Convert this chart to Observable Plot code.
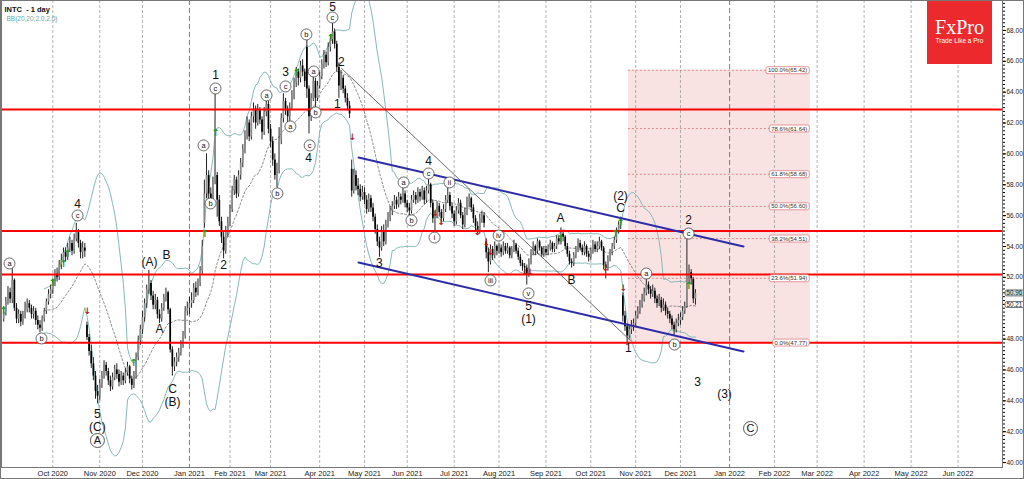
<!DOCTYPE html>
<html><head><meta charset="utf-8">
<script src="https://cdn.jsdelivr.net/npm/d3@7"></script>
<script src="https://cdn.jsdelivr.net/npm/@observablehq/plot@0.6"></script>
<style>
html,body{margin:0;padding:0;background:#fff;}
#wrap{position:relative;width:1024px;height:479px;overflow:hidden;}
#logo{position:absolute;left:927px;top:0;width:65px;height:64px;background:#ec2a2d;color:#fff;text-align:center;}
#logo .b{position:absolute;left:0;right:0;top:17px;font-family:'Liberation Serif','DejaVu Serif',serif;font-size:20px;line-height:20px;}
#logo .s{position:absolute;left:0;right:0;top:37px;font-family:'Liberation Sans',Arial,sans-serif;font-size:6.5px;line-height:8px;}
#border{position:absolute;left:0;top:0;width:1024px;height:479px;box-sizing:border-box;border:1px solid #777;pointer-events:none;}
</style></head>
<body><div id="wrap"></div>
<script>
// ---- daily OHLC (bar index 0 = early Sep 2020) ----
const open = [
49.3,49.7,50.4,51.0,50.6,51.8,50.0,49.3,49.6,49.1,
49.5,49.9,50.3,50.0,49.6,49.8,49.2,48.9,48.7,49.3,
49.8,50.4,50.9,51.2,51.6,52.2,52.0,52.8,53.1,53.6,
53.3,53.9,54.2,53.7,54.5,54.9,54.2,53.6,53.9,48.9,
48.1,47.2,46.4,45.6,44.6,44.3,45.1,45.6,46.3,45.9,
45.3,44.9,45.5,46.0,45.7,45.2,45.6,45.3,45.8,46.2,
45.4,45.0,45.6,46.8,47.9,48.6,49.4,50.3,51.2,51.6,
50.8,50.2,50.5,49.6,49.3,50.0,50.7,51.0,49.9,47.3,
46.2,46.5,46.8,47.1,47.6,48.2,49.8,50.0,50.3,50.5,
51.3,51.0,51.6,52.4,55.5,57.4,58.6,57.4,56.9,58.2,
58.6,57.0,55.6,54.6,53.7,55.0,55.5,56.4,57.6,58.3,
57.4,58.6,59.4,60.3,61.2,62.0,61.1,62.4,62.9,62.0,
62.8,62.2,61.4,62.7,63.2,61.6,60.8,59.6,58.6,58.9,
60.9,62.3,63.4,62.9,62.4,63.0,63.8,64.6,65.3,64.9,
65.7,65.3,66.9,64.2,62.4,63.6,64.7,63.6,64.4,65.0,
65.8,66.4,65.9,66.9,67.4,67.9,67.1,65.6,64.4,64.9,
64.2,63.6,63.1,59.0,57.6,58.6,57.9,57.7,57.2,57.5,
57.0,56.4,57.1,56.5,55.9,55.1,54.3,53.9,55.0,54.3,
55.4,55.9,56.3,56.6,57.0,56.7,57.2,57.0,57.4,56.8,
56.5,56.3,57.0,57.3,57.0,57.5,57.2,57.6,57.0,57.6,
58.0,56.8,55.8,56.0,56.6,56.2,55.8,56.4,57.0,57.3,
56.6,56.1,55.6,56.3,56.8,56.0,55.4,56.2,56.9,57.1,
56.5,55.8,55.3,55.0,55.8,56.0,54.3,53.6,53.0,53.8,
53.4,54.0,53.7,53.9,53.6,54.0,53.7,53.9,53.4,53.8,
54.1,53.7,53.3,52.9,52.7,52.6,52.2,53.0,53.6,54.0,
53.7,54.3,53.9,53.5,53.8,53.6,53.9,54.2,53.8,54.0,
54.5,54.3,54.8,54.6,54.0,53.5,53.0,52.9,53.4,53.8,
54.2,53.9,53.6,54.0,53.5,53.3,53.7,54.1,53.8,54.0,
54.3,53.9,52.8,52.6,53.2,53.6,54.0,54.4,55.0,55.4,
50.8,49.5,48.8,48.2,48.6,48.9,49.0,49.5,49.8,50.2,
50.6,51.0,51.5,51.2,50.9,51.1,50.6,50.3,50.5,50.0,
50.2,49.8,49.6,49.3,48.9,48.6,49.0,49.2,49.4,49.8,
50.1,52.0,52.3,51.9,50.6];
const high = [
50.1,50.7,51.4,51.3,52.6,51.9,50.3,49.9,49.8,49.8,
50.4,50.6,50.5,50.2,50.1,50.0,49.5,49.2,49.5,50.0,
50.6,51.2,51.5,51.9,52.5,52.6,53.1,53.5,53.9,53.9,
54.2,54.6,54.4,54.8,55.5,55.1,54.4,54.3,54.2,49.1,
48.3,47.6,46.8,45.9,45.0,45.4,45.9,46.6,46.5,46.1,
45.6,45.8,46.3,46.4,46.0,45.9,45.8,46.1,46.5,46.3,
45.6,45.9,47.1,48.2,48.9,49.8,50.6,51.5,52.45,51.8,
51.1,50.9,50.7,49.9,50.3,50.9,51.3,51.1,50.0,47.5,
46.8,47.1,47.4,47.9,48.5,50.1,50.4,50.7,51.0,51.6,
51.7,51.9,52.7,54.4,58.3,60.0,58.9,57.8,58.5,63.9,
58.8,57.3,55.9,54.9,55.3,55.9,56.7,57.9,58.6,58.5,
58.9,59.7,60.6,61.5,62.4,62.2,62.7,63.3,63.1,63.2,
63.0,62.4,63.0,63.8,63.4,61.9,61.1,60.0,59.4,61.7,
62.6,63.9,63.6,63.1,63.3,64.1,64.9,65.6,65.5,66.0,
66.1,65.5,67.35,64.4,63.9,65.1,64.9,64.7,65.3,66.1,
66.7,66.6,67.2,67.7,68.45,68.1,67.3,65.9,65.4,65.1,
64.4,63.9,63.4,59.6,59.0,58.9,58.4,58.0,57.9,57.8,
57.3,57.4,57.3,56.8,56.1,55.4,54.6,55.3,55.4,55.7,
56.2,56.6,56.9,57.3,57.2,57.5,57.4,57.8,57.6,57.0,
56.8,57.3,57.6,57.5,57.8,57.7,57.9,57.8,57.9,58.4,
58.1,57.0,56.3,56.9,56.8,56.4,56.7,57.3,57.8,57.5,
56.8,56.3,56.6,57.1,57.0,56.2,56.5,57.2,57.4,57.2,
56.7,56.0,55.6,56.1,56.3,56.2,54.5,53.9,54.1,54.0,
54.3,54.1,54.2,54.1,54.3,54.2,54.2,54.0,54.0,54.4,
54.2,53.9,53.5,53.1,52.9,52.8,53.2,53.8,54.3,54.1,
54.5,54.4,54.0,54.0,54.0,54.1,54.4,54.3,54.2,54.7,
54.7,55.2,55.0,54.7,54.2,53.7,53.2,53.6,54.0,54.5,
54.4,54.1,54.3,54.1,53.7,53.9,54.4,54.3,54.3,54.6,
54.4,54.0,53.0,53.4,53.8,54.2,54.6,55.2,55.6,55.9,
51.0,49.8,49.0,48.9,49.2,49.3,49.8,50.1,50.5,50.9,
51.3,51.9,51.7,51.4,51.5,51.3,50.8,50.9,50.7,50.6,
50.4,50.0,49.8,49.5,49.1,49.3,49.6,49.7,50.1,50.4,
54.6,52.8,52.5,52.0,51.2];
const low = [
49.1,49.5,50.2,50.3,50.3,49.8,49.0,49.0,48.8,48.9,
49.3,49.7,49.7,49.3,49.3,48.9,48.6,48.4,48.5,49.1,
49.6,50.2,50.6,50.9,51.4,51.7,51.8,52.5,52.9,53.0,
53.1,53.6,53.4,53.5,54.3,53.9,53.2,53.2,53.3,47.9,
46.9,46.1,45.3,44.1,43.8,44.0,44.8,45.4,45.6,45.0,
44.6,44.7,45.3,45.4,44.9,45.0,45.0,45.1,45.6,45.1,
44.7,44.8,45.4,46.6,47.6,48.3,49.1,50.0,50.9,50.5,
49.9,49.9,49.3,49.0,49.1,49.8,50.4,49.6,47.1,45.6,
45.9,46.2,46.5,46.9,47.4,48.0,49.5,49.6,50.0,50.3,
50.7,50.8,51.4,52.2,55.2,57.1,57.0,56.4,56.7,58.0,
55.9,55.3,54.2,53.2,53.5,54.6,55.3,56.2,57.3,57.1,
57.2,58.3,59.1,60.0,60.9,60.8,60.9,62.0,61.6,61.8,
61.9,60.9,61.2,62.4,61.3,60.4,59.2,58.3,57.8,58.7,
60.6,62.0,62.5,62.0,62.1,62.8,63.5,64.3,64.4,64.6,
65.0,64.3,63.6,61.3,62.1,63.4,63.0,63.4,64.2,64.8,
65.5,65.6,65.7,66.6,67.1,66.8,65.3,63.6,64.1,63.9,
63.3,62.8,62.3,57.2,57.4,57.6,57.3,56.9,57.0,56.7,
56.1,56.2,56.2,55.6,54.8,54.0,53.3,53.7,54.0,54.1,
55.2,55.6,56.0,56.4,56.4,56.5,56.7,56.8,56.5,56.2,
56.0,56.1,56.8,56.7,56.8,56.9,57.0,56.7,56.8,57.4,
56.5,55.5,55.0,55.8,55.9,55.5,55.6,56.2,56.8,56.3,
55.8,55.3,55.4,56.1,55.8,55.1,55.2,56.0,56.5,56.2,
55.5,55.0,54.7,54.8,55.5,55.2,53.2,52.3,52.8,53.1,
53.2,53.4,53.5,53.3,53.4,53.5,53.5,53.2,53.2,53.6,
53.5,53.1,52.7,52.4,52.2,51.5,52.0,52.8,53.4,53.4,
53.5,53.7,53.3,53.3,53.4,53.4,53.7,53.6,53.6,53.8,
54.1,54.1,54.3,53.8,53.3,52.8,52.6,52.7,53.2,53.6,
53.7,53.4,53.4,53.3,53.0,53.1,53.5,53.6,53.6,53.8,
53.7,52.5,51.9,52.4,53.0,53.4,53.8,54.2,54.8,55.1,
49.1,48.5,47.77,48.0,48.3,48.5,48.8,49.3,49.6,50.0,
50.4,50.8,50.9,50.6,50.7,50.3,50.0,50.1,49.7,49.8,
49.5,49.3,49.0,48.6,48.2,48.4,48.8,48.9,49.2,49.6,
50.0,51.6,51.5,50.3,50.2];
const close = [
49.7,50.4,51.0,50.6,51.8,50.0,49.3,49.6,49.1,49.5,
49.9,50.3,50.0,49.6,49.8,49.2,48.9,48.7,49.3,49.8,
50.4,50.9,51.2,51.6,52.2,52.0,52.8,53.1,53.6,53.3,
53.9,54.2,53.7,54.5,54.9,54.2,53.6,53.9,53.7,48.1,
47.2,46.4,45.6,44.6,44.3,45.1,45.6,46.3,45.9,45.3,
44.9,45.5,46.0,45.7,45.2,45.6,45.3,45.8,46.2,45.4,
45.0,45.6,46.8,47.9,48.6,49.4,50.3,51.2,51.6,50.8,
50.2,50.5,49.6,49.3,50.0,50.7,51.0,49.9,47.3,46.2,
46.5,46.8,47.1,47.6,48.2,49.8,50.0,50.3,50.5,51.3,
51.0,51.6,52.4,54.0,57.4,58.6,57.4,56.9,58.2,62.3,
57.0,55.6,54.6,53.7,55.0,55.5,56.4,57.6,58.3,57.4,
58.6,59.4,60.3,61.2,62.0,61.1,62.4,62.9,62.0,62.8,
62.2,61.4,62.7,63.2,61.6,60.8,59.6,58.6,58.9,60.9,
62.3,63.4,62.9,62.4,63.0,63.8,64.6,65.3,64.9,65.7,
65.3,64.7,64.2,62.4,63.6,64.7,63.6,64.4,65.0,65.8,
66.4,65.9,66.9,67.4,67.9,67.1,65.6,64.4,64.9,64.2,
63.6,63.1,62.6,57.6,58.6,57.9,57.7,57.2,57.5,57.0,
56.4,57.1,56.5,55.9,55.1,54.3,53.9,55.0,54.3,55.4,
55.9,56.3,56.6,57.0,56.7,57.2,57.0,57.4,56.8,56.5,
56.3,57.0,57.3,57.0,57.5,57.2,57.6,57.0,57.6,58.0,
56.8,55.8,56.0,56.6,56.2,55.8,56.4,57.0,57.3,56.6,
56.1,55.6,56.3,56.8,56.0,55.4,56.2,56.9,57.1,56.5,
55.8,55.3,55.0,55.8,56.0,55.5,53.6,53.0,53.8,53.4,
54.0,53.7,53.9,53.6,54.0,53.7,53.9,53.4,53.8,54.1,
53.7,53.3,52.9,52.7,52.6,52.2,53.0,53.6,54.0,53.7,
54.3,53.9,53.5,53.8,53.6,53.9,54.2,53.8,54.0,54.5,
54.3,54.8,54.6,54.0,53.5,53.0,52.9,53.4,53.8,54.2,
53.9,53.6,54.0,53.5,53.3,53.7,54.1,53.8,54.0,54.3,
53.9,52.8,52.6,53.2,53.6,54.0,54.4,55.0,55.4,55.6,
49.5,48.8,48.2,48.6,48.9,49.0,49.5,49.8,50.2,50.6,
51.0,51.5,51.2,50.9,51.1,50.6,50.3,50.5,50.0,50.2,
49.8,49.6,49.3,48.9,48.6,49.0,49.2,49.4,49.8,50.1,
52.0,52.3,51.9,50.6,50.96];

// ---- axis ticks ----
const monthLabels = ["Oct 2020","Nov 2020","Dec 2020","Jan 2021","Feb 2021","Mar 2021","Apr 2021","May 2021","Jun 2021","Jul 2021","Aug 2021","Sep 2021","Oct 2021","Nov 2021","Dec 2021","Jan 2022","Feb 2022","Mar 2022","Apr 2022","May 2022","Jun 2022"];
const monthIdx = [23,45,65,87,106,125,148,169,189,211,232,254,275,296,317,340,361,381,403,425,447];
const yearIdx = [87,340];
const priceTicks = [40,42,44,46,48,52,54,56,58,60,62,64,66,68];

// ---- drawn studies ----
const levels = [62.88, 55.0, 52.18, 47.77];
const channelUpper = [[166.2,59.77],[346.5,54.0]];
const channelLower = [[166.2,52.96],[346.5,47.2]];
const trendLine = [[158.2,65.54],[293.6,47.9]];
const fibPct = ["100.0%","78.6%","61.8%","50.0%","38.2%","23.6%","0.0%"];
const fibPrice = [65.42,61.64,58.68,56.60,54.51,51.94,47.77];
const fibStart = 292.6, fibEnd = 377.8, fibLineEnd = 359.5;
const priceTags = [["50.96",50.96,"#c6e0e0"],["50.21",50.21,"#ffffff"]];

// ---- wave annotations [text, bar index, price] ----
const waveLabels = [["4",34.6,56.72],["5",43.9,43.11],["(C)",43.9,42.27],["(A)",68.3,52.96],["B",76.3,53.42],["A",73.0,48.62],["C",79.1,44.73],["(B)",79.1,43.89],["1",99.2,65.08],["2",103.0,52.77],["3",132.0,65.28],["4",142.8,59.70],["5",154.0,69.5],["2",158.2,65.93],["1",156.3,63.2],["3",176.0,52.90],["4",199.0,59.51],["5",245.8,50.11],["(1)",245.8,49.27],["A",260.8,55.82],["B",265.9,51.80],["C",288.9,56.46],["(2)",288.9,57.24],["1",292.6,47.39],["2",320.8,55.69],["3",325.0,45.19],["(3)",337.6,44.41]];
const circled = [["a",2.7,52.90],["b",17.7,48.04],["c",34.6,56.01],["a",93.6,60.55],["b",96.9,56.79],["c",99.2,64.24],["a",123.1,63.79],["b",128.2,57.44],["c",132.0,64.37],["a",134.3,61.78],["b",141.8,67.74],["c",143.3,60.55],["a",145.2,65.34],["b",146.1,62.69],["c",154.0,68.84],["a",187.3,58.15],["b",191.0,55.69],["c",199.0,58.73],["i",201.8,54.58],["ii",208.8,58.15],["iii",228.0,51.80],["iv",231.8,54.71],["v",245.8,50.96],["a",301.0,52.25],["b",314.2,47.65],["c",320.8,54.84]];
const circledBig = [["A",43.9,41.43],["C",349.8,42.21]];
const upArrows = [[-0.1,49.85],[22.9,51.67],[28.0,52.90],[29.9,53.55],[60.8,46.48],[94.1,54.84],[99.2,61.39],[137.1,65.28],[153.1,67.55],[260.8,54.52],[286.5,54.84],[288.9,55.56],[320.8,51.47]];
const downArrows = [[39.3,49.79],[163.4,61.07],[202.2,56.14],[205.0,55.56],[221.9,54.91],[226.1,54.20],[228.0,53.61],[244.2,52.32],[246.6,52.32],[281.9,52.58],[290.3,51.28]];

// ---- build ----
const bars = close.map((c, i) => ({i, o: open[i], h: high[i], l: low[i], c}));
const bb = [];
for (let i = 19; i < close.length; i++) {
  const w = close.slice(i - 19, i + 1);
  const m = d3.mean(w);
  const sd = Math.sqrt(d3.mean(w, v => (v - m) ** 2));
  bb.push({i, m, u: m + 2 * sd, d: m - 2 * sd});
}
const fibRows = fibPrice.map((p, k) => ({p, a: fibStart, b: fibLineEnd, e: fibEnd, label: `${fibPct[k]}(${p.toFixed(2)})`}));
const lblMap = new Map(monthIdx.map((d, k) => [d, monthLabels[k]]));
const X = d => d[1], Y = d => d[2], T = d => d[0];

const chart = Plot.plot({
  width: 1024, height: 479,
  marginLeft: 1, marginRight: 22, marginTop: 0, marginBottom: 12,
  x: {domain: [-1.03, 467.82], axis: null},
  y: {domain: [39.68, 69.94], axis: null},
  style: {fontFamily: "'Liberation Sans', Arial, sans-serif", background: "white"},
  marks: [
    Plot.rect([{x1: fibStart, x2: fibEnd, y1: fibPrice[6], y2: fibPrice[0]}], {x1: "x1", x2: "x2", y1: "y1", y2: "y2", fill: "#f8e2e2"}),
    Plot.ruleX(monthIdx.filter(d => !yearIdx.includes(d)), {stroke: "#a0a0a0", strokeWidth: 0.8, strokeDasharray: "3,2"}),
    Plot.ruleX(yearIdx, {stroke: "#707070", strokeWidth: 0.9, strokeDasharray: "5,3"}),
    Plot.line(bb, {x: "i", y: "u", stroke: "#86b9b9", strokeWidth: 1, clip: true}),
    Plot.line(bb, {x: "i", y: "d", stroke: "#86b9b9", strokeWidth: 1, clip: true}),
    Plot.line(bb, {x: "i", y: "m", stroke: "#707070", strokeWidth: 0.8, strokeDasharray: "2,2", clip: true}),
    Plot.ruleX(bars, {x: "i", y1: "l", y2: "h", stroke: "#222", strokeWidth: 1}),
    Plot.ruleX(bars.filter(d => d.c >= d.o), {x: "i", y1: "o", y2: "c", stroke: "#8c8c8c", strokeWidth: 1.7}),
    Plot.ruleX(bars.filter(d => d.c < d.o), {x: "i", y1: "o", y2: "c", stroke: "#000", strokeWidth: 1.7}),
    Plot.ruleY(fibRows, {y: "p", x1: "a", x2: "b", stroke: "#e07070", strokeWidth: 0.8, strokeDasharray: "2,2"}),
    Plot.ruleY(levels, {stroke: "#ff0000", strokeWidth: 2}),
    Plot.line(channelUpper, {x: d => d[0], y: d => d[1], stroke: "#2c2ca8", strokeWidth: 2}),
    Plot.line(channelLower, {x: d => d[0], y: d => d[1], stroke: "#2c2ca8", strokeWidth: 2}),
    Plot.line(trendLine, {x: d => d[0], y: d => d[1], stroke: "#444", strokeWidth: 0.8}),
    Plot.text(fibRows, {x: "e", y: "p", text: "label", textAnchor: "end", dx: -3, fontSize: 6, fill: "#333", ariaDescription: "fiblab"}),
    Plot.text(upArrows, {x: d => d[0], y: d => d[1], text: () => "\u2191", fill: "#1e9a1e", fontSize: 10, fontWeight: "bold", fontFamily: "DejaVu Sans"}),
    Plot.text(downArrows, {x: d => d[0], y: d => d[1], text: () => "\u2193", fill: "#c01818", fontSize: 9, fontWeight: "bold", fontFamily: "DejaVu Sans"}),
    Plot.text(waveLabels, {x: X, y: Y, text: T, fontSize: 12, fill: "#111"}),
    Plot.dot(circled, {x: X, y: Y, r: 5.5, fill: "white", stroke: "#444", strokeWidth: 0.8}),
    Plot.text(circled, {x: X, y: Y, text: T, fontSize: 7.5, fill: "#111"}),
    Plot.dot(circledBig, {x: X, y: Y, r: 7, fill: "white", stroke: "#444", strokeWidth: 0.9}),
    Plot.text(circledBig, {x: X, y: Y, text: T, fontSize: 11, fill: "#111"}),
    Plot.frame({stroke: "#777"}),
    Plot.axisX({ticks: monthIdx, tickFormat: d => lblMap.get(d), tickSize: 0, tickPadding: 3, fontSize: 7.5, fill: "#222"}),
    Plot.axisY({anchor: "right", ticks: d3.range(40, 69.9, 0.25), tickSize: 2, tickFormat: () => ""}),
    Plot.axisY({anchor: "right", ticks: priceTicks, tickFormat: d => d.toFixed(2), tickSize: 3, tickPadding: 1, fontSize: 6.5, fill: "#222"}),
    Plot.text(priceTags, {y: d => d[1], frameAnchor: "right", text: T, textAnchor: "start", dx: 4, fontSize: 6.3, fill: "#222", ariaDescription: "tag"}),
    Plot.text(["INTC\u00a0\u00a0-\u00a01 day"], {frameAnchor: "top-left", text: d => d, dx: 3, dy: 6, fontWeight: "bold", fontSize: 7.5, fill: "#111"}),
    Plot.text(["BB(20,20,2.0,2.0)"], {frameAnchor: "top-left", text: d => d, dx: 5, dy: 16, fontSize: 6.5, fill: "#5fa8a8"})
  ]
});

const wrap = document.getElementById("wrap");
wrap.appendChild(chart);
const logo = document.createElement("div");
logo.id = "logo";
logo.innerHTML = '<div class="b">FxPro</div><div class="s">Trade Like a Pro</div>';
wrap.appendChild(logo);
const border = document.createElement("div");
border.id = "border";
wrap.appendChild(border);

const NS = "http://www.w3.org/2000/svg";
function boxes(desc, fills, stroke, padX, padY) {
  chart.querySelectorAll(`g[aria-description="${desc}"] text`).forEach((t, k) => {
    const b = t.getBBox();
    const r = document.createElementNS(NS, "rect");
    r.setAttribute("x", b.x - padX);
    r.setAttribute("y", b.y - padY);
    r.setAttribute("width", b.width + 2 * padX);
    r.setAttribute("height", b.height + 2 * padY);
    r.setAttribute("rx", 2);
    r.setAttribute("fill", fills[k] ?? fills[0]);
    r.setAttribute("stroke", stroke);
    r.setAttribute("stroke-width", 0.8);
    const tr = t.getAttribute("transform");
    if (tr) r.setAttribute("transform", tr);
    t.parentNode.insertBefore(r, t);
  });
}
boxes("fiblab", ["#ffffff"], "#e08080", 2, 0.5);
boxes("tag", priceTags.map(d => d[2]), "#555", 1.5, -0.5);
</script>
</body></html>
